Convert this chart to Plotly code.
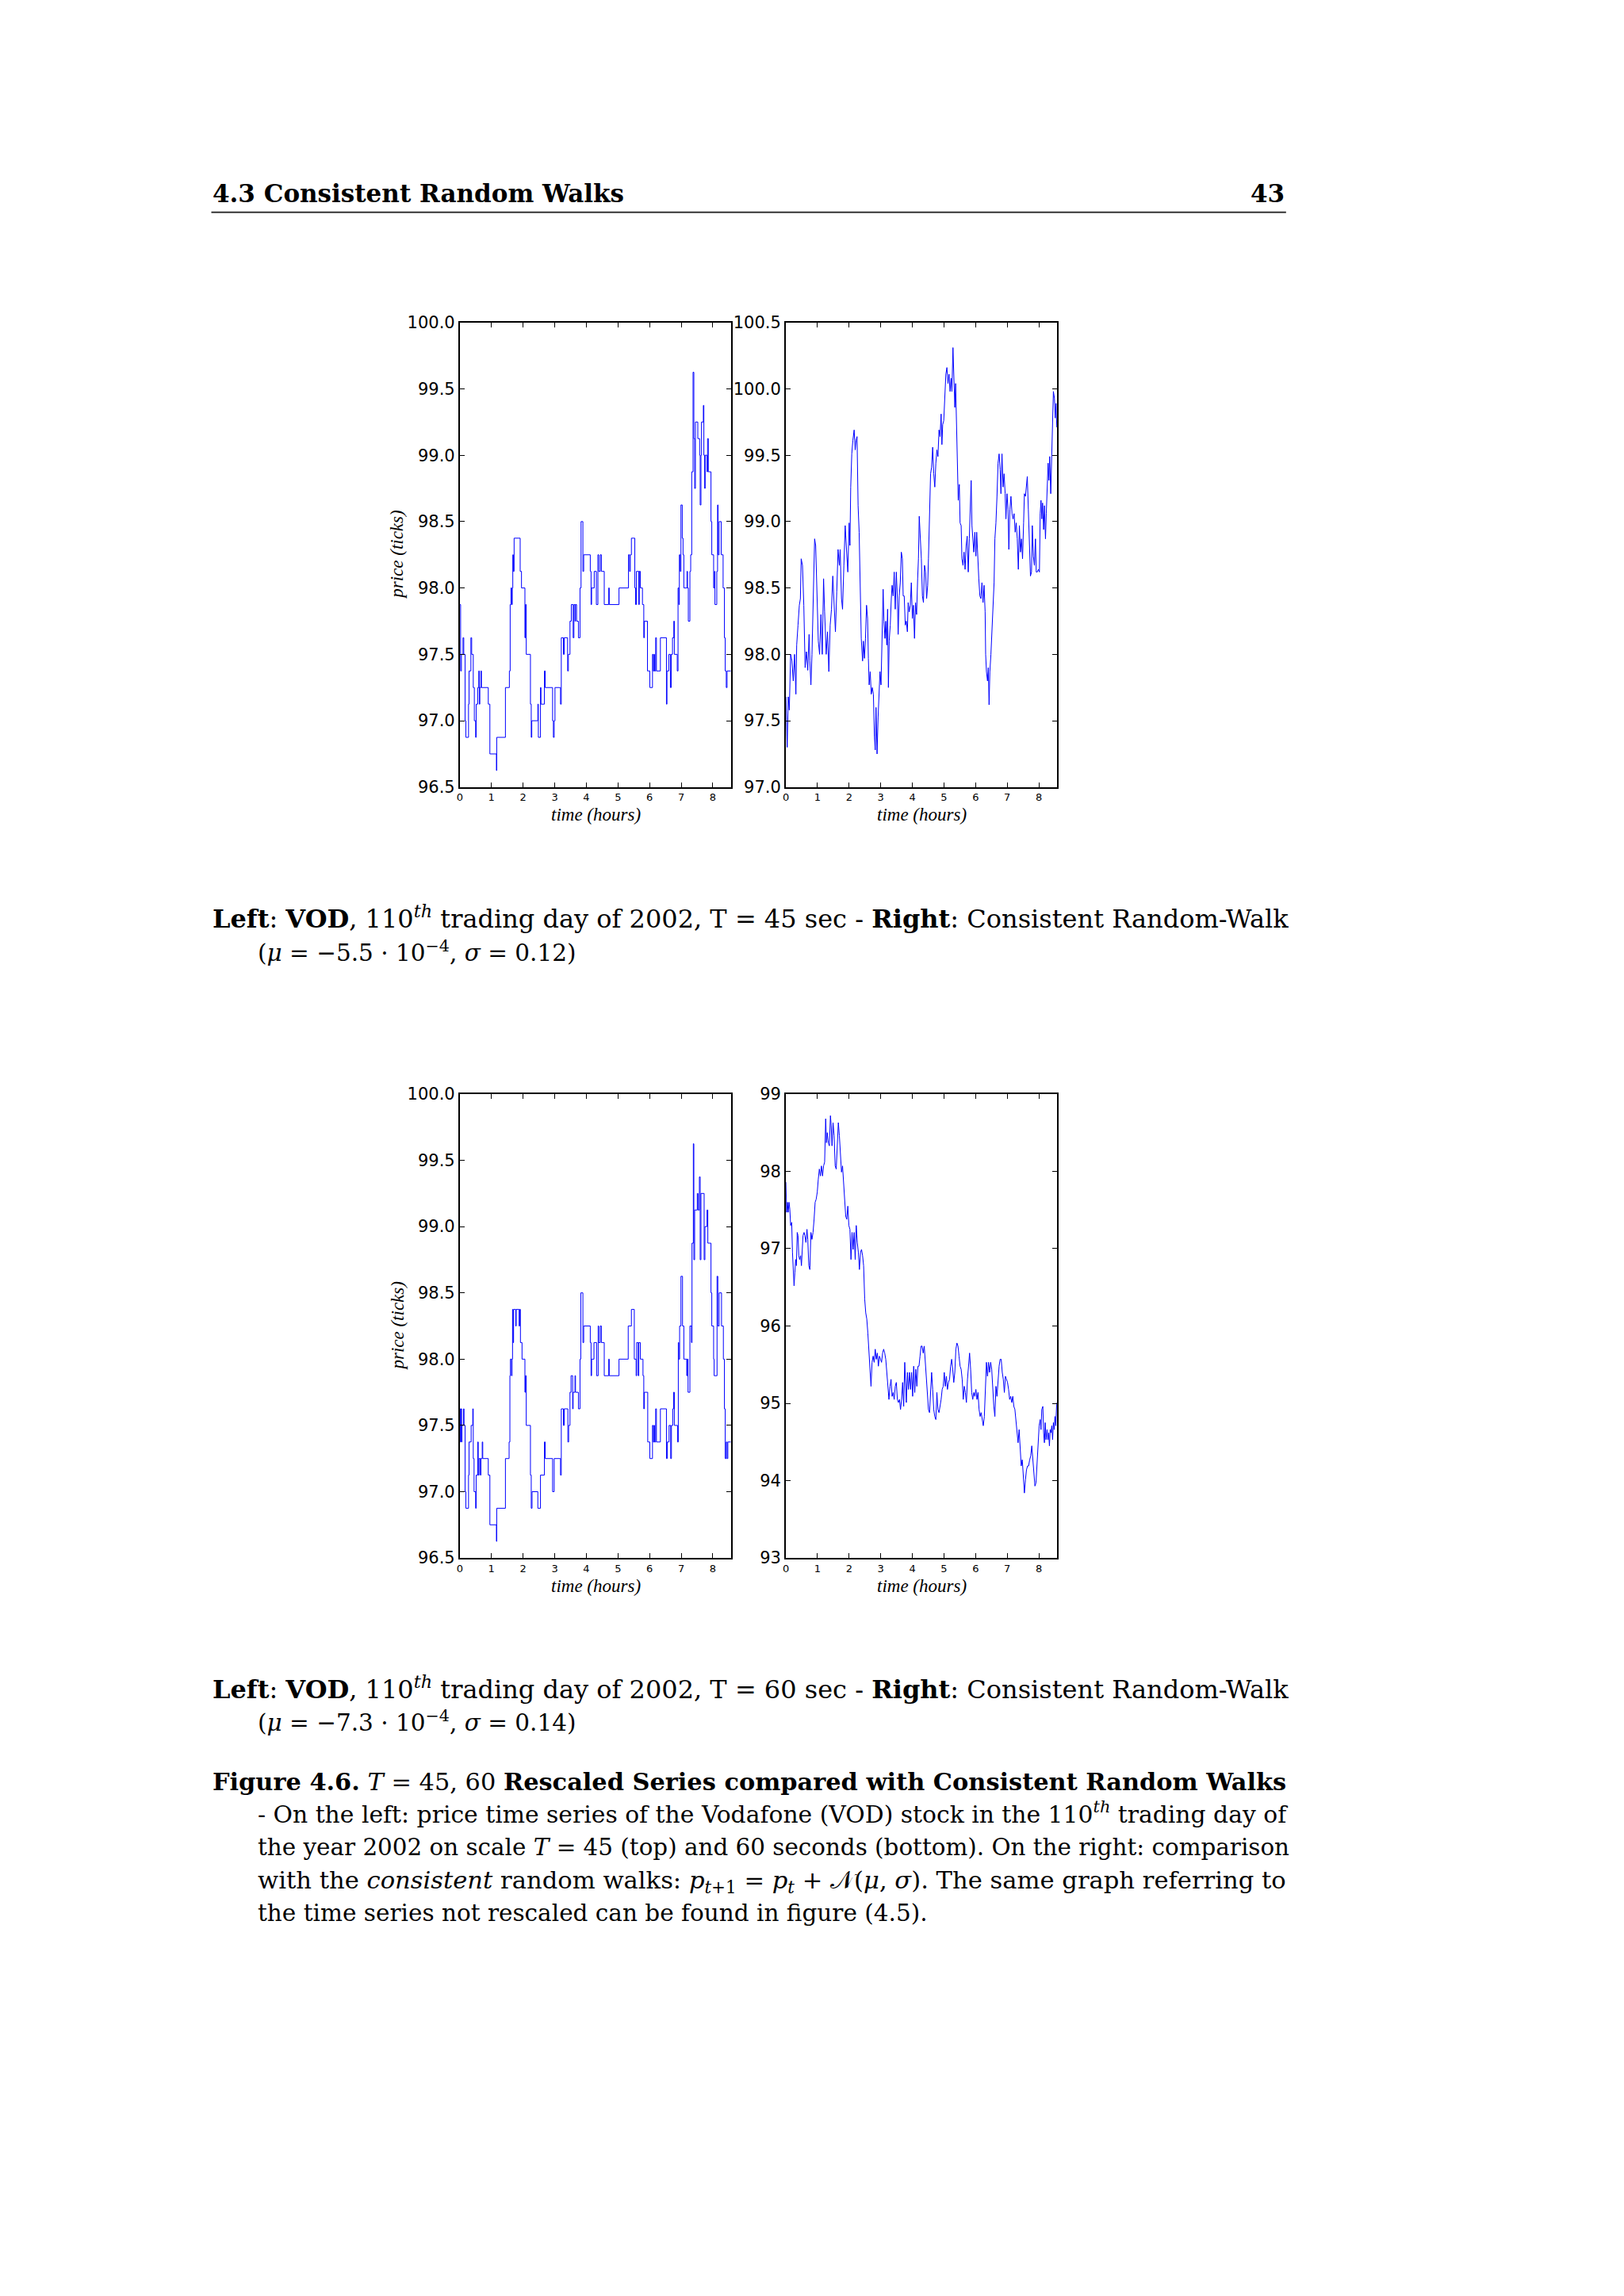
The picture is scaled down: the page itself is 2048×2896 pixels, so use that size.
import plotly.graph_objects as go

# page = 2048 x 2896; the browser body keeps its default 8 px margin,
# so the figure itself is 16 px smaller and every page position is shifted by 8 px.
PAGE_W, PAGE_H, BODY = 2048, 2896, 8
W, H = PAGE_W - 2 * BODY, PAGE_H - 2 * BODY
# small vertical calibration of page positions (observed render offset / scale)
Y_OFF, Y_SCALE = 11.5, 0.9914

# ---------------- data (time in minutes from open, price in ticks) ----------------
VOD45 = [(0,97.875),(1.5,97.375),(3,97.5),(6,97.625),(7.5,97.5),(10,97.0),(11.5,96.875),(16.5,97.125),
 (17.5,97.375),(21,97.625),(22.5,97.5),(25.5,97.25),(27.5,97.0),(30,96.875),(31,97.125),(34,97.25),
 (36,97.375),(37,97.125),(38,97.25),(40,97.375),(41,97.25),(54,97.125),(57,96.75),(69.5,96.625),
 (70,96.875),(86.5,97.25),(94,97.375),(95.5,97.875),(97,98.0),(98.5,97.875),(99.5,98.0),(100.5,98.25),
 (101.5,98.125),(103,98.375),(114.5,98.125),(117,98.0),(123.5,97.625),(124.5,97.875),(126,97.5),
 (134,97.125),(135.5,96.875),(136.5,97.0),(148,97.125),(149,96.875),(153,97.25),(154,97.125),
 (160.5,97.375),(162,97.25),(176,97.0),(177.5,96.875),(179,97.0),(180.5,97.25),(191,97.125),
 (192.5,97.625),(196.5,97.5),(198,97.625),(204.5,97.375),(206,97.5),(209,97.75),(211.5,97.875),
 (215,97.625),(216.5,97.875),(218.5,97.75),(219.5,97.875),(221.5,97.75),(225,97.625),(228,98.0),
 (230,98.5),(233.5,98.125),(235,98.25),(247.5,98.125),(249,97.875),(250,98.0),(255,98.125),
 (259,97.875),(262,98.25),(263.5,98.125),(266.5,98.25),(268.5,98.125),(274,97.875),(282.5,98.0),
 (283.5,97.875),(302,98.0),(320,98.25),(322,98.125),(323.5,98.25),(325.5,98.375),(332,98.0),
 (333.5,97.875),(335,98.125),(339.5,97.875),(340.5,98.125),(342.5,98.0),(346.5,97.875),(349,97.625),
 (350,97.75),(356,97.375),(360.5,97.25),(365.5,97.5),(367,97.375),(368.5,97.5),(369.5,97.375),
 (371.5,97.625),(373,97.375),(380.5,97.625),(392,97.125),(393,97.375),(396.5,97.5),(399.5,97.25),
 (401,97.5),(403.5,97.625),(406,97.75),(407,97.5),(412.5,97.375),(414,98.0),(415.5,97.875),
 (416.5,98.25),(418,98.125),(419.5,98.625),(422,98.375),(423.5,98.25),(425,98.0),(431,98.125),
 (432,98.0),(433.5,97.75),(436.5,98.125),(438,98.25),(440,98.875),(442.5,99.625),(444,99.125),
 (445.5,98.75),(447,99.25),(451.5,99.125),(455,99.0),(456,98.625),(457.5,99.0),(458.5,99.25),
 (462,99.375),(463,99.0),(464.5,98.75),(465.5,99.0),(469,98.875),(470,99.125),(471.5,98.875),
 (476.5,98.5),(478,98.25),(481.5,98.0),(483,98.125),(484,97.875),(487.5,98.125),(489,98.625),
 (490,98.25),(492,98.5),(496,98.25),(499.5,98.0),(502,97.625),(503.5,97.375),(505.5,97.25),
 (507,97.375),(514,97.375)]

VOD60 = [(0,97.625),(1,97.375),(2,97.625),(3.5,97.375),(4,97.5),(7,97.625),(8,97.5),(10,97.0),
 (11.5,96.875),(16.5,97.125),(17.5,97.375),(21.5,97.5),(24.5,97.625),(25.5,97.25),(27,97.0),
 (30,96.875),(31,97.125),(34,97.375),(35,97.125),(36.5,97.25),(39,97.125),(40,97.25),(42.5,97.375),
 (43.5,97.25),(54,97.125),(57,96.75),(69.5,96.625),(70,96.875),(86.5,97.25),(93.5,97.375),
 (95,97.875),(96,98.0),(98,97.875),(99,98.0),(100,98.375),(101,98.125),(102,98.375),(106,98.25),
 (107,98.375),(112.5,98.25),(113.5,98.375),(115,98.125),(118,98.0),(123.5,97.75),(124.5,97.875),
 (126,97.5),(134,97.125),(135.5,96.875),(137,97.0),(148,96.875),(153,97.125),(160.5,97.375),
 (162,97.25),(176,97.0),(179,97.25),(191,97.125),(192.5,97.625),(196.5,97.5),(198,97.625),
 (205,97.375),(206.5,97.5),(209,97.75),(211,97.875),(214,97.625),(215,97.75),(218.5,97.875),
 (219.5,97.75),(225,97.625),(228,98.0),(229.5,98.5),(233.5,98.125),(235,98.25),(247.5,98.125),
 (249,97.875),(250,98.0),(254.5,98.125),(259.5,97.875),(262.5,98.25),(263.5,98.125),(266.5,98.25),
 (268.5,98.125),(274,97.875),(282.5,98.0),(283.5,97.875),(302,98.0),(319.5,98.25),(325.5,98.375),
 (331,98.0),(334.5,97.875),(335.5,98.125),(338.5,97.875),(339.5,98.125),(342.5,98.0),(347.5,97.875),
 (349,97.625),(350,97.75),(356.5,97.375),(360.5,97.25),(365.5,97.5),(367,97.375),(368.5,97.5),
 (369.5,97.375),(371.5,97.625),(373,97.375),(380.5,97.625),(392,97.25),(393.5,97.375),(397,97.5),
 (400,97.25),(401.5,97.5),(404,97.625),(405.5,97.75),(407,97.5),(413,97.375),(414.5,98.125),
 (415.5,98.0),(417,98.25),(419.5,98.625),(422.5,98.25),(425,98.0),(430.5,97.875),(431.5,98.0),
 (433,97.75),(436.5,98.25),(439.5,98.125),(440.5,98.875),(443,99.625),(444,98.75),(445.5,99.125),
 (450.5,99.25),(452,99.125),(454.5,99.375),(456,98.75),(457.5,99.25),(463.5,98.75),(465,99.0),
 (469,99.125),(470.5,98.875),(476.5,98.5),(478,98.25),(481.5,98.0),(482.5,97.875),(488,98.625),
 (489.5,98.25),(492,98.5),(496.5,98.25),(500,98.0),(502,97.625),(503.5,97.25),(505.5,97.375),
 (507,97.25),(508.5,97.375),(514,97.375)]

RW45 = [(0,97.68),(2.5,97.30),(4.5,97.68),(6.5,97.58),(9,98.0),(11.5,97.95),(14,97.80),(16.5,98.0),
 (19,97.70),(20.5,98.07),(23,98.22),(25.5,98.37),(27.5,98.42),(29,98.72),(31.5,98.67),(34,98.37),
 (36.5,97.90),(39,98.02),(41.5,97.88),(44,98.15),(45.5,97.95),(47.5,97.77),(49.5,98.0),(52.5,98.57),
 (54.5,98.87),(56.5,98.82),(59,98.44),(61.5,98.10),(64,98.0),(66.5,98.30),(69,98.0),(71.5,98.57),
 (73.5,98.32),(76.5,98.0),(79,98.17),(81.5,97.87),(84,98.22),(86.5,98.34),(89,98.59),(91.5,98.37),
 (94,98.17),(96.5,98.47),(99,98.79),(101.5,98.67),(103,98.79),(105.5,98.42),(107.5,98.34),
 (110,98.67),(112.5,98.97),(115,98.79),(117.5,98.62),(120,98.99),(121.5,98.82),(123,99.26),
 (125,99.51),(127,99.61),(129.5,99.69),(131.5,99.54),(133,99.61),(135,99.64),(137,99.12),
 (139,98.92),(141.5,98.44),(143,98.12),(145.5,97.95),(147,98.10),(149,97.97),(151,98.12),
 (153,98.37),(155,98.27),(156.5,97.97),(158,97.77),(160,97.87),(162,97.70),(164,97.75),(166,97.70),
 (168,97.38),(169.5,97.28),(171,97.60),(173,97.25),(175,97.53),(176.5,97.68),(178.5,97.87),
 (180.5,97.77),(182.5,98.07),(184.5,98.49),(186,98.25),(188,98.12),(189.5,98.25),(191.5,98.07),
 (193,98.34),(194.5,97.75),(196,98.10),(198,98.22),(200,98.42),(201.5,98.52),(203.5,98.44),
 (205.5,98.62),(207.5,98.34),(209.5,98.62),(211.5,98.42),(213,98.15),(215,98.44),(217,98.54),
 (219,98.77),(221,98.72),(222.5,98.44),(224.5,98.44),(226.5,98.22),(228.5,98.25),(230.5,98.17),
 (232,98.39),(234,98.32),(236,98.37),(238,98.54),(240,98.27),(242,98.37),(244,98.12),(246,98.39),
 (248,98.30),(250,98.57),(251.5,98.72),(253,99.04),(255,98.87),(257,98.72),(259,98.44),(261,98.39),
 (263,98.67),(265,98.62),(267,98.42),(269,98.52),(270.5,98.72),(272.5,99.06),(274.5,99.36),
 (276.5,99.41),(278.5,99.56),(280.5,99.36),(282.5,99.26),(284.5,99.44),(286.5,99.54),(288.5,99.49),
 (290.5,99.69),(292.5,99.64),(294.5,99.81),(296,99.58),(297.5,99.73),(299.5,99.76),(301.5,99.96),
 (303.5,100.11),(305.5,100.16),(307.5,100.04),(309.5,100.11),(311.5,99.98),(313.5,100.08),
 (315,99.98),(317,100.31),(319,100.04),(320.5,99.86),(322,100.04),(324,99.73),(325.5,99.36),
 (327,99.16),(329,99.28),(330.5,98.99),(332.5,98.97),(334,98.72),(336,98.67),(338,98.77),
 (340,98.64),(342,98.82),(344,98.89),(346,98.62),(348,98.87),(349.5,99.09),(351.5,99.31),
 (353,98.97),(354.5,98.87),(356.5,98.77),(358.5,98.92),(360.5,98.74),(362,98.92),(364,98.69),
 (366,98.57),(368,98.44),(370,98.42),(372,98.54),(374,98.39),(376,98.52),(378,98.32),(379,98.0),
 (380.5,97.87),(382.5,97.80),(384,97.90),(385.5,97.62),(387,97.87),(389,98.0),(391,98.20),
 (393,98.34),(395,98.54),(396.5,98.87),(398.5,98.99),(400.5,99.19),(402.5,99.44),(404.5,99.51),
 (406.5,99.39),(408,99.21),(410,99.51),(412,99.26),(414,99.36),(416,99.21),(417.5,99.02),
 (419.5,99.21),(421.5,99.09),(423,98.79),(425,99.09),(427,99.19),(429,99.06),(431,99.02),
 (433,99.06),(435,98.92),(437,98.99),(439,98.87),(441,98.64),(443,98.97),(445,98.77),(447,98.87),
 (449,98.72),(451,98.99),(452.5,99.21),(454.5,99.19),(456.5,99.28),(458,99.34),(460,99.09),
 (462,98.82),(464,98.59),(466,98.62),(467.5,98.97),(469.5,98.74),(471.5,98.67),(473.5,98.87),
 (475,98.62),(477,98.62),(479,98.64),(481,98.62),(482.5,99.06),(484,99.16),(485.5,99.02),
 (487,99.14),(489,98.94),(490.5,99.12),(492.5,98.87),(494,99.06),(495.5,99.21),(497.5,99.44),
 (499,99.31),(500.5,99.49),(502.5,99.21),(504,99.49),(506,99.66),(507.5,99.98),(509.5,99.93),
 (511,99.78),(512.5,99.89),(514,99.71)]

RW60 = [(0,97.86),(1.5,97.47),(3,97.60),(4.5,97.47),(6,97.60),(7.5,97.51),(9,97.30),(11,97.34),
 (12.5,96.95),(14,96.73),(15.5,96.52),(17,96.69),(18.5,96.86),(20,96.78),(21.5,97.21),(23,97.17),
 (24.5,96.91),(26,96.86),(28,96.91),(29.5,96.78),(31,96.95),(32.5,97.17),(34.5,97.21),(36,97.17),
 (38,97.08),(40,97.25),(41.5,97.12),(43.5,96.78),(45.5,96.73),(47.5,97.21),(49.5,97.12),
 (51.5,97.21),(53.5,97.38),(55.5,97.60),(57.5,97.64),(59.5,97.73),(61.5,97.90),(63.5,98.03),
 (65.5,97.94),(67.5,98.07),(69.5,97.94),(71.5,98.07),(73.5,98.12),(75.5,98.68),(77,98.37),
 (78.5,98.50),(80.5,98.37),(82.5,98.33),(84.5,98.72),(86,98.59),(87.5,98.33),(89.5,98.63),
 (91.5,98.46),(93.5,98.07),(95.5,98.03),(97.5,98.33),(99.5,98.63),(101.5,98.46),(103.5,98.16),
 (105.5,97.99),(107.5,98.07),(109.5,97.81),(111.5,97.60),(113.5,97.42),(115.5,97.38),(117.5,97.55),
 (119.5,97.30),(121.5,97.25),(123.5,96.86),(125.5,97.21),(127.5,96.99),(129.5,97.21),(131.5,96.86),
 (133.5,97.30),(135.5,97.08),(137.5,96.95),(139.5,96.73),(141.5,96.95),(143.5,96.99),(145.5,96.91),
 (147.5,96.78),(149.5,96.35),(151.5,96.17),(153.5,96.09),(155.5,95.91),(157.5,95.65),(159.5,95.48),
 (161.5,95.22),(163.5,95.53),(165.5,95.61),(167.5,95.53),(169.5,95.70),(171.5,95.57),(173.5,95.65),
 (175.5,95.48),(177.5,95.61),(179.5,95.57),(181.5,95.53),(183.5,95.65),(185.5,95.70),(187.5,95.65),
 (189.5,95.57),(191.5,95.40),(193.5,95.18),(195.5,95.05),(197.5,95.22),(199.5,95.31),(201.5,95.09),
 (203.5,95.14),(205.5,95.05),(207.5,95.22),(209.5,95.27),(211.5,95.05),(213.5,95.01),(215.5,95.05),
 (217.5,94.92),(219.5,95.05),(221.5,95.27),(223.5,94.96),(225.5,95.53),(227,95.18),(228.5,95.01),
 (230.5,95.40),(232.5,95.18),(234.5,95.40),(236.5,95.18),(238.5,95.40),(240.5,95.09),(242.5,95.48),
 (244.5,95.14),(246.5,95.44),(248.5,95.22),(250.5,95.48),(252.5,95.48),(254.5,95.61),(256.5,95.74),
 (258.5,95.74),(260.5,95.65),(262.5,95.74),(264.5,95.53),(266.5,95.31),(268.5,95.09),(270.5,94.92),
 (272.5,94.88),(274.5,95.18),(276.5,95.40),(278.5,95.18),(280.5,94.92),(282.5,94.83),(284.5,94.79),
 (286.5,95.14),(288.5,94.92),(290.5,94.88),(292.5,94.96),(294.5,95.05),(296.5,95.18),(298.5,95.22),
 (300.5,95.40),(302.5,95.22),(304.5,95.35),(306.5,95.18),(308.5,95.27),(310.5,95.31),(312.5,95.48),
 (314.5,95.57),(316.5,95.44),(318.5,95.27),(320.5,95.40),(322.5,95.70),(324.5,95.78),(326.5,95.74),
 (328.5,95.61),(330.5,95.48),(332.5,95.44),(334.5,95.31),(336.5,95.05),(338.5,95.22),(340.5,95.14),
 (342.5,95.01),(344.5,95.31),(346.5,95.53),(348.5,95.65),(350.5,95.44),(352.5,95.14),(354.5,95.05),
 (356.5,95.14),(358.5,95.09),(360.5,95.18),(362.5,95.05),(364.5,95.14),(366.5,94.92),(368.5,94.83),
 (370.5,94.88),(372.5,94.79),(374.5,94.71),(376.5,94.83),(378.5,95.31),(380.5,95.53),(382.5,95.35),
 (384.5,95.53),(386.5,95.40),(388.5,95.53),(390.5,95.44),(392.5,95.18),(394.5,94.96),(396.5,94.83),
 (398.5,95.22),(400.5,95.09),(402.5,95.35),(404.5,95.48),(406.5,95.57),(408.5,95.57),(410.5,95.40),
 (412.5,95.31),(414.5,95.14),(416.5,95.35),(418.5,95.31),(420.5,95.27),(422.5,95.18),(424.5,95.05),
 (426.5,95.09),(428.5,95.01),(430.5,95.09),(432.5,94.96),(434.5,94.92),(436.5,94.75),(438.5,94.62),
 (440.5,94.49),(442.5,94.66),(444.5,94.45),(446.5,94.19),(448.5,94.27),(450.5,94.01),(452.5,93.84),
 (454.5,94.01),(456.5,94.14),(458.5,94.19),(460.5,94.19),(462.5,94.27),(464.5,94.32),(466.5,94.45),
 (468.5,94.27),(470.5,94.14),(472.5,93.93),(474.5,93.97),(476.5,94.19),(478.5,94.53),(480.5,94.71),
 (482.5,94.79),(484,94.66),(485.5,94.92),(487.5,94.96),(489,94.62),(490.5,94.49),(492,94.75),
 (493.5,94.53),(495.5,94.66),(497,94.53),(498.5,94.62),(500,94.45),(501.5,94.66),(503,94.62),
 (504.5,94.71),(506,94.53),(507.5,94.75),(509,94.66),(510.5,94.83),(512,94.71),(513.5,94.96),
 (514.5,95.01)]

X_TICKS = [0, 1, 2, 3, 4, 5, 6, 7, 8]
X_MAX_MIN = 515

def fx(px):
    return (px - BODY) / W

def fy(py):
    py = (py - Y_OFF) / Y_SCALE
    return 1 - (py - BODY) / H

# --------------- panels (page pixel boxes) ----------------
panels = [
    dict(data=VOD45, shape="hv", box=(577, 920, 406, 992), yr=[96.5, 100.0], dt=0.5, fmt=".1f", ylab=True),
    dict(data=RW45, shape="linear", box=(989, 1332, 406, 992), yr=[97.0, 100.5], dt=0.5, fmt=".1f", ylab=False),
    dict(data=VOD60, shape="hv", box=(577, 920, 1379, 1964), yr=[96.5, 100.0], dt=0.5, fmt=".1f", ylab=True),
    dict(data=RW60, shape="linear", box=(989, 1332, 1379, 1964), yr=[93.0, 99.0], dt=1, fmt="d", ylab=False),
]

fig = go.Figure()
layout = {}
annotations = []
TICKFONT = "DejaVu Sans"
SERIF = "DejaVu Serif"
LABFONT = "Liberation Serif"

for i, p in enumerate(panels):
    k = "" if i == 0 else str(i + 1)
    x0, x1, y0, y1 = p["box"]
    t = [m / 60.0 for m, _ in p["data"]]
    v = [pr for _, pr in p["data"]]
    fig.add_trace(go.Scatter(x=t, y=v, mode="lines", xaxis="x" + k, yaxis="y" + k,
                             line=dict(color="#0000ff", width=1, shape=p["shape"]),
                             showlegend=False, hoverinfo="skip"))
    common = dict(showline=True, linecolor="black", linewidth=2, mirror="allticks",
                  ticks="inside", ticklen=6, tickwidth=1, tickcolor="black",
                  showgrid=False, zeroline=False)
    layout["xaxis" + k] = dict(domain=[fx(x0), fx(x1)], range=[0, X_MAX_MIN / 60.0],
                               anchor="y" + k, tickvals=X_TICKS,
                               tickfont=dict(family=TICKFONT, size=13, color="black"), **common)
    layout["yaxis" + k] = dict(domain=[fy(y1), fy(y0)], range=p["yr"], anchor="x" + k,
                               dtick=p["dt"], tick0=0, tickformat=p["fmt"],
                               tickfont=dict(family=TICKFONT, size=21, color="black"), **common)
    annotations.append(dict(text="<i>time (hours)</i>", x=fx((x0 + x1) / 2), y=fy(y1 + 35),
                            xref="paper", yref="paper", xanchor="center", yanchor="middle",
                            showarrow=False, font=dict(family=LABFONT, size=23, color="black")))
    if p["ylab"]:
        annotations.append(dict(text="<i>price (ticks)</i>", x=fx(498), y=fy((y0 + y1) / 2),
                                xref="paper", yref="paper", xanchor="center", yanchor="middle",
                                textangle=-90, showarrow=False,
                                font=dict(family=LABFONT, size=23, color="black")))

ASC, DESC = 0.928, 0.236

def txt(s, x, baseline, size, anchor="left", vref="bottom"):
    if vref == "bottom":
        ypx = baseline + DESC * size + 2
    else:
        ypx = baseline - ASC * size - 2
    annotations.append(dict(text=s, x=fx(x), y=fy(ypx), xref="paper", yref="paper",
                            xanchor=anchor, yanchor=vref, showarrow=False, align="left",
                            font=dict(family=SERIF, size=size, color="black")))

LM, RM, IND = 263, 1621, 320
txt("<b>4.3 Consistent Random Walks</b>", LM, 254, 31)
txt("<b>43</b>", RM, 254, 31, anchor="right")

txt("<b>Left</b>: <b>VOD</b>, 110<sup><i>th</i></sup> trading day of 2002, T = 45 sec - "
    "<b>Right</b>: Consistent Random-Walk", LM, 1170, 32)
txt("(<i>μ</i> = −5.5 · 10<sup>−4</sup>, <i>σ</i> = 0.12)", IND, 1211, 29.5)

txt("<b>Left</b>: <b>VOD</b>, 110<sup><i>th</i></sup> trading day of 2002, T = 60 sec - "
    "<b>Right</b>: Consistent Random-Walk", LM, 2141, 32)
txt("(<i>μ</i> = −7.3 · 10<sup>−4</sup>, <i>σ</i> = 0.14)", IND, 2182, 29.5)

txt("<b>Figure 4.6.</b> <i>T</i> = 45, 60 <b>Rescaled Series compared with Consistent Random Walks</b>",
    LM, 2257, 30.4)
txt("- On the left: price time series of the Vodafone (VOD) stock in the 110<sup><i>th</i></sup> trading day of",
    IND, 2298, 29.8)
txt("the year 2002 on scale <i>T</i> = 45 (top) and 60 seconds (bottom). On the right: comparison",
    IND, 2339, 29.4)
txt("with the <i>consistent</i> random walks: <i>p</i><sub><i>t</i>+1</sub> = <i>p</i><sub><i>t</i></sub> + "
    "𝒩(<i>μ</i>, <i>σ</i>). The same graph referring to", IND, 2381, 30.6, vref="top")
txt("the time series not rescaled can be found in figure (4.5).", IND, 2422, 29.5)

layout["shapes"] = [dict(type="line", xref="paper", yref="paper", x0=fx(LM), x1=fx(RM),
                         y0=fy(267), y1=fy(267), line=dict(color="#333333", width=2))]
layout["annotations"] = annotations

fig.update_layout(width=W, height=H, margin=dict(l=0, r=0, t=0, b=0),
                  paper_bgcolor="white", plot_bgcolor="white", showlegend=False, **layout)

fig.write_html("out.html", config={"displayModeBar": False})
